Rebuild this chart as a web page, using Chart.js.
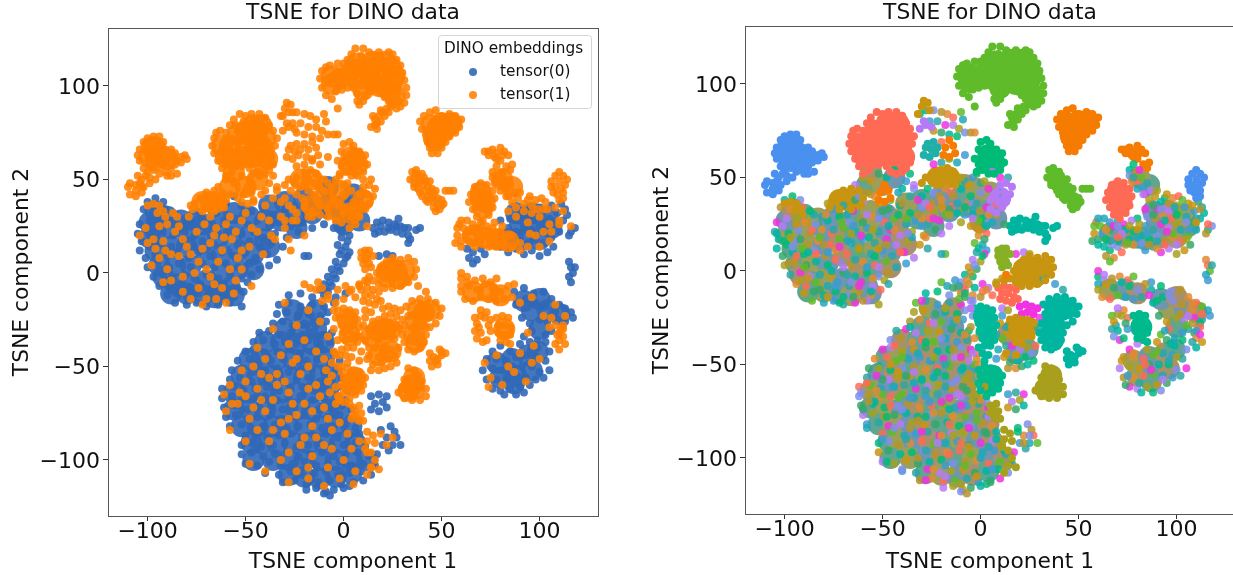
<!DOCTYPE html>
<html>
<head>
<meta charset="utf-8">
<title>TSNE for DINO data</title>
<script src="https://cdn.jsdelivr.net/npm/chart.js@4/dist/chart.umd.min.js"></script>
<style>
    html, body { margin: 0; padding: 0; background: #fff; overflow: hidden; width: 1233px; height: 575px; }
    canvas { position: absolute; top: 0; }
    #leftChart { left: 0; }
    #rightChart { left: 640px; }
</style>
</head>
<body>
<canvas id="leftChart" width="620" height="575"></canvas>
<canvas id="rightChart" width="620" height="575"></canvas>
<script>
// Tick labels and legend
const xTicks = [-100, -50, 0, 50, 100];
const yTicks = [-100, -50, 0, 50, 100];
const legendTitle = 'DINO embeddings';
const legendNames = ['tensor(0)', 'tensor(1)'];

// Points, [x, y]
// Dense parts: *Core are the wide blobs under the dots
const blueCore = [[-96,22],[-88,24],[-80,22],[-72,26],[-64,30],[-56,32],[-48,30],[-40,28],[-32,28],[-24,30],[-16,32],[-8,36],[-96,12],[-88,14],[-80,14],[-72,16],[-64,20],[-56,22],[-48,20],[-40,18],[-94,4],[-86,4],[-78,4],[-70,8],[-62,10],[-54,12],[-46,10],[-38,14],[-86,-6],[-78,-6],[-70,-4],[-62,0],[-54,2],[-80,-11],[-72,-12],[-64,-10],[-58,-8],
    [-99,19],[-99,27],[-96,33],[-90,30],[-83,28],[-76,28],[-92,-2],[-88,-11],[-66,-13],[-56,-12],[-46,2],[-30,38],[-38,36],[-20,40],[-8,46],[0,36],[5,42],[8,28],[0,26],[-24,24],
    [-26,-20],[-20,-24],[-14,-20],[-30,-30],[-22,-32],[-14,-30],[-40,-37],[-32,-37],[-24,-38],[-16,-38],[-10,-37],[-48,-46],[-42,-46],[-34,-46],[-26,-46],[-18,-46],[-10,-46],[-52,-55],[-44,-55],[-36,-55],[-28,-55],[-20,-55],[-12,-55],[-6,-54],
    [-56,-64],[-48,-64],[-40,-64],[-32,-64],[-24,-64],[-16,-64],[-8,-64],[-56,-73],[-48,-73],[-40,-73],[-32,-73],[-24,-73],[-16,-73],[-8,-73],[-2,-73],[-52,-82],[-44,-82],[-36,-82],[-28,-82],[-20,-82],[-12,-82],[-4,-82],[4,-82],
    [-47,-91],[-42,-91],[-34,-91],[-26,-91],[-18,-91],[-10,-91],[-2,-91],[6,-91],[-46,-100],[-36,-100],[-28,-100],[-20,-100],[-12,-100],[-4,-100],[4,-100],[12,-100],[-28,-108],[-20,-109],[-12,-110],[-4,-109],[4,-107],
    [78,-48],[86,-46],[94,-44],[99,-42],[80,-56],[88,-55],[96,-52],[87,-59],[96,-20],[104,-20],[110,-22],[92,18],[100,18],[90,26],[98,26],[106,24],[104,30],[92,-15],[100,-14],[100,-30],[84,18],[88,32],[96,32]];
const upperLeftDots = [[-100,38],[-96,40],[-92,38],[-102,34],[-97,33],[-91,34],[-86,31],[-81,29],[-75,33],[-70,35],[-65,32],[-60,37],[-56,41],[-52,36],[-47,33],[-41,35],[-36,31],[-30,34],[-25,36],[-19,33],[-14,35],[-9,31],[-4,33],[1,30],
    [-105,21],[-104,26],[-99,28],[-94,28],[-89,26],[-83,25],[-78,27],[-72,29],[-67,26],[-61,28],[-55,29],[-49,26],[-44,28],[-38,25],[-33,27],[-27,25],[-21,27],[-16,24],[-10,26],[-5,24],[1,25],
    [-103,17],[-98,20],[-93,22],[-87,20],[-81,22],[-76,20],[-70,23],[-64,21],[-58,23],[-52,21],[-46,22],[-41,19],[-35,21],[-29,19],[-23,22],
    [-104,12],[-99,14],[-94,16],[-88,14],[-83,16],[-77,14],[-72,17],[-66,15],[-60,17],[-54,15],[-48,17],[-43,14],[-37,16],[-31,14],
    [-101,8],[-96,10],[-90,9],[-85,11],[-79,8],[-74,11],[-68,9],[-62,11],[-56,9],[-50,11],[-45,8],[-39,10],[-34,7],
    [-100,3],[-95,5],[-89,3],[-84,5],[-78,3],[-72,5],[-66,3],[-60,5],[-54,3],[-48,5],[-43,2],[-38,4],
    [-97,-2],[-92,-1],[-87,-3],[-81,-1],[-76,-3],[-70,-1],[-64,-3],[-58,-1],[-52,-3],[-47,-1],
    [-94,-7],[-89,-8],[-84,-6],[-78,-8],[-73,-6],[-67,-8],[-61,-6],[-55,-8],[-49,-5],
    [-90,-12],[-85,-11],[-80,-13],[-74,-11],[-68,-13],[-62,-11],[-56,-13],[-51,-10],
    [-86,-16],[-80,-17],[-75,-16],[-70,-18],[-64,-17],[-58,-16],[-52,-18]];
const lowerDots = [[-28,-12],[-22,-11],[-16,-13],[-10,-12],[-4,-13],[1,-11],
    [-33,-17],[-28,-16],[-22,-18],[-16,-17],[-10,-18],[-5,-16],[-34,-22],[-29,-21],[-23,-23],[-18,-22],[-12,-23],[-8,-21],
    [-36,-27],[-31,-26],[-26,-28],[-20,-27],[-14,-28],[-9,-26],[-43,-32],[-38,-31],[-33,-33],[-27,-32],[-21,-33],[-15,-31],[-10,-33],[-6,-32],
    [-46,-37],[-41,-36],[-35,-38],[-30,-37],[-24,-38],[-18,-36],[-12,-38],[-7,-37],[-50,-42],[-46,-41],[-40,-43],[-34,-42],[-28,-41],[-22,-43],[-16,-42],[-10,-41],[-5,-43],
    [-54,-47],[-48,-46],[-43,-48],[-37,-47],[-31,-46],[-25,-48],[-19,-47],[-13,-46],[-7,-48],[-2,-47],[-57,-52],[-52,-51],[-46,-53],[-40,-52],[-34,-51],[-28,-53],[-22,-52],[-16,-51],[-10,-53],[-4,-52],
    [-58,-57],[-53,-56],[-47,-58],[-42,-57],[-36,-56],[-30,-58],[-24,-57],[-18,-56],[-12,-58],[-6,-57],[-1,-56],[-62,-62],[-56,-61],[-51,-63],[-45,-62],[-39,-61],[-33,-63],[-27,-62],[-21,-61],[-15,-63],[-9,-62],[-3,-61],[2,-63],
    [-62,-67],[-57,-66],[-52,-68],[-46,-67],[-40,-66],[-34,-68],[-28,-67],[-22,-66],[-16,-68],[-10,-67],[-4,-66],[1,-68],[-61,-72],[-55,-71],[-49,-73],[-43,-72],[-37,-71],[-31,-73],[-25,-72],[-19,-71],[-13,-73],[-7,-72],[-1,-71],[4,-73],
    [-60,-77],[-55,-76],[-49,-78],[-44,-77],[-38,-76],[-32,-78],[-26,-77],[-20,-76],[-14,-78],[-8,-77],[-2,-76],[3,-78],[-58,-82],[-52,-81],[-47,-83],[-41,-82],[-35,-81],[-29,-83],[-23,-82],[-17,-81],[-11,-83],[-5,-82],[1,-81],[6,-83],
    [-50,-87],[-45,-86],[-39,-88],[-33,-87],[-27,-86],[-21,-88],[-15,-87],[-9,-86],[-3,-88],[3,-87],[8,-86],[-52,-92],[-47,-91],[-42,-93],[-36,-92],[-30,-91],[-24,-93],[-18,-92],[-12,-91],[-6,-93],[0,-92],[6,-91],[11,-93],
    [-52,-97],[-47,-96],[-41,-98],[-35,-97],[-29,-96],[-23,-98],[-17,-97],[-11,-96],[-5,-98],[1,-97],[7,-96],[13,-98],[17,-97],[-50,-102],[-44,-103],[-38,-101],[-32,-103],[-26,-102],[-20,-101],[-14,-103],[-8,-102],[-2,-101],[4,-103],[10,-102],[16,-103],
    [-40,-107],[-33,-108],[-27,-106],[-21,-108],[-15,-107],[-9,-106],[-3,-108],[3,-107],[9,-106],[14,-108],[-31,-112],[-25,-111],[-19,-113],[-13,-112],[-7,-111],[-1,-113],[5,-112],[10,-111],[-19,-116],[-14,-115],[-9,-117],[-5,-116],[0,-115],[3,-114],[-10,-118],[-7,-119]];
const rightUpperDots = [[63,13],[66,11],[70,13],[64,8],[68,7],[72,10],[66,5],[80,14],[84,11],[88,13],[92,10],[96,12],[100,9],[104,11],[107,14],[82,19],[86,17],[90,19],[94,16],[98,18],[102,16],[106,19],[110,22],[84,24],[88,22],[92,25],[96,23],[100,25],[104,23],[108,26],[112,28],[80,28],[85,29],[89,28],[93,30],[97,28],[101,31],[105,29],[109,32],[113,34],[90,33],[95,34],[100,35],[106,36],[111,37],[114,31],[116,22],[118,24],[115,20],[115,6],[116,3],[117,0],[115,-2],[116,-5],[118,3]];
const rightLowerDots = [[87,-10],[92,-8],[97,-11],[102,-10],[106,-14],[110,-17],[113,-19],[116,-21],[117,-24],[113,-26],[109,-25],[104,-26],[100,-25],[95,-27],[91,-24],[88,-17],[93,-14],[98,-16],[103,-18],[108,-21],[96,-31],[92,-34],[99,-36],[103,-33],[106,-31],
    [76,-42],[80,-39],[85,-42],[90,-38],[95,-37],[99,-40],[103,-37],[105,-42],[73,-46],[78,-46],[83,-47],[88,-45],[93,-44],[98,-45],[103,-47],[105,-52],[71,-52],[76,-51],[81,-52],[86,-50],[91,-50],[96,-50],[100,-53],[73,-57],[78,-57],[83,-56],[88,-55],[93,-56],[98,-57],[102,-56],[76,-62],[80,-63],[85,-62],[90,-61],[95,-60],[82,-65],[88,-65],[92,-64]];
const columnDots = [[-4,30],[1,28],[4,26],[-2,24],[-1,19],[3,20],[-3,15],[1,14],[3,11],[-2,10],[2,9],[-4,6],[0,5],[-6,2],[-2,1],[-8,-2],[-4,-3],[-10,-6],[-6,-7],[-12,-9],[-8,-10],[-18,9],[-20,9],[14,-66],[18,-65],[22,-66],[16,-70],[20,-69],[14,-73],[18,-74],[22,-72],[19,-84],[24,-82],[26,-85],[22,-88],[27,-88],[29,-92],[25,-92],[20,-92],[23,-95],[18,9],[22,10],[25,9],[-1,22],[2,17],[-1,12],[1,8],[-3,3],[-5,-1],[-7,-5],[-9,-9]];
// Orange-on-blue dots scattered through the dense parts
const scatterDots = [[-104,20],[-100,16],[-96,13],[-98,4],[-90,26],[-86,22],[-82,18],[-85,30],[-78,10],[-75,22],[-72,13],[-70,2],[-66,20],[-62,12],[-60,26],[-57,18],[-54,8],[-52,28],[-48,14],[-44,22],[-41,10],[-38,28],[-35,18],[-30,24],[-27,12],[-24,28],[-20,20],[-16,30],[-88,-4],[-82,-10],[-76,0],[-70,-14],[-66,-6],[-60,-16],[-55,-4],[-84,9],[-91,12],[-68,30],[-58,2],[-47,-7],
    [-30,-16],[-24,-28],[-18,-20],[-12,-26],[-8,-14],[-36,-30],[-28,-38],[-20,-36],[-14,-42],[-8,-34],[-44,-40],[-40,-46],[-32,-44],[-26,-48],[-18,-50],[-10,-46],[-4,-44],[-52,-52],[-46,-50],[-38,-56],[-30,-58],[-22,-54],[-14,-60],[-6,-55],[-1,-50],[-58,-60],[-50,-66],[-44,-62],[-36,-68],[-28,-64],[-20,-70],[-12,-66],[-4,-70],[2,-62],
    [-60,-74],[-54,-70],[-48,-78],[-40,-74],[-32,-80],[-24,-76],[-16,-82],[-8,-78],[-58,-84],[-50,-90],[-38,-90],[-30,-86],[-22,-92],[-14,-88],[-6,-94],[2,-86],[8,-90],[-48,-102],[-40,-106],[-32,-100],[-24,-106],[-16,-98],[-8,-104],[0,-100],[6,-106],[14,-104],[-28,-112],[-18,-110],[-10,-114],[-2,-110],[5,-113],[12,-96],[19,-86],[25,-88],[22,-92],
    [64,22],[70,18],[75,15],[80,18],[85,20],[90,16],[95,21],[100,14],[105,17],[110,26],[88,30],[94,27],[100,30],[105,26],[112,33],[78,-44],[84,-50],[90,-43],[96,-48],[75,-56],[81,-60],[87,-53],[93,-58],[100,-46],[72,-48],[74,-61],[97,-39],[90,-16],[96,-13],[102,-23],[108,-17],[113,-23],[105,-29],[94,-32],[110,-32],[108,-38],[112,-34],
    [-101,24],[-97,18],[-94,25],[-92,17],[-88,10],[-87,32],[-84,25],[-80,14],[-79,30],[-74,6],[-71,26],[-68,16],[-65,24],[-64,6],[-61,19],[-58,30],[-55,22],[-52,12],[-50,32],[-47,24],[-42,30],[-37,20],[-32,30],[-28,18],[-94,8],[-90,2],[-82,-2],[-74,-8],[-68,-2],[-62,-8],[-52,2],[-92,-5],[-78,-14],[-65,-14],[-56,-11],[-72,-17],
    [-61,-65],[-57,-70],[-53,-64],[-46,-72],[-42,-68],[-34,-60],[-26,-70],[-18,-62],[-10,-72],[-34,-54],[-24,-46],[-42,-54],[-50,-58],[-16,-74],[-28,-78],[-44,-84],[-36,-84],[-20,-88],[-10,-92],[-2,-80],[4,-94],[-18,-104],[-28,-96],[-6,-84],[4,-78],[-2,-66]];
// Orange parts that stay mixed in the class colours
const orangeMidCore = [[-58,46],[-50,46],[-44,50],[-56,54],[-10,40],[-2,44],[-16,36],[-4,34],[4,32],[66,20],[72,19],[78,18],[84,17],[66,-10],[74,-10],[80,-12],[86,46],[81,50],[18,-44],[14,-34],[24,-42]];
const orangeMidDots = [[-30,40],[-27,44],[-24,42],[-21,40],[-18,44],[-15,42],[-12,46],[-8,48],[-4,50],[0,47],[4,44],[-28,36],[-24,32],[-20,35],[-16,33],[-12,31],[-8,34],[-4,37],[0,32],[4,30],[8,36],[-1,27],[6,26],[10,42],[14,50],[10,50],[6,53],[-78,36],[-70,40],[-64,38],[-40,44],[-36,52],[-34,44],[-40,36],[-30,28],[-26,28],
    [-20,-6],[-17,-8],[-13,-5],[-11,-8],[1,-7],[4,-9],[8,-6],[11,-4],[-14,-9],[-3,-9],[60,-3],[63,-5],[67,-4],[71,-3],[75,-5],[78,-3],[60,-7],[87,-6],
    [13,-40],[16,-40],[20,-42],[24,-41],[12,-46],[15,-49],[19,-48],[23,-46],[26,-44],[14,-52],[18,-52],[28,-40],[11,-36],[13,-30],[11,-24],[29,-30],[30,-25],[11,-20],[14,-21],[10,-28],[21,-51],[24,-50],[27,-48],
    [-4,-24],[-5,-30],[-3,-36],[-2,-44],[-3,-50],[9,-42],[8,-47],[8,-34],[-5,-42],[-6,-48],[-8,-58],[-4,-61],[-7,-64],[-9,-52],[-2,-68],[3,-70],[-3,-66],[0,-69],
    [59,26],[61,24],[63,28],[66,26],[70,27],[73,25],[77,27],[81,25],[58,20],[60,17],[74,22],[78,21],[82,15],[86,14],[90,12],[94,14],[98,20],[102,22],[106,22],[110,28],[84,33],[96,32],[102,34],[108,35],[66,22],[76,17],[70,16],[67,14],
    [70,-23],[73,-21],[75,-25],[67,-24],[69,-29],[75,-31],[67,-31],[71,-37],[106,-24],[111,-30],[113,-38],[109,-33],[110,-41],[112,-28]];
const orangePatchDots = [[-31,84],[-28,86],[-24,86],[-20,85],[-17,84],[-14,82],[-10,85],[-9,81],[-26,80],[-22,80],[-18,78],[-14,78],[-11,76],[-24,75],[-20,74],[-16,73],[-12,72],[-8,74],[-5,74],[-3,74],[-20,69],[-16,60],[-12,58],[-8,62],[-20,58],[-24,57],
    [-64,46],[-60,50],[-56,48],[-52,52],[-48,50],[-44,54],[-62,40],[-58,42],[-54,40],[-50,44],[-46,38],[-42,42],[-38,48],[-36,40],[-32,38],[-34,46],
    [-10,50],[-6,46],[-2,52],[-10,44],[-5,40],[0,42],[-14,40],[-20,38],[-26,34],[-18,30],[-12,36],[-8,30],[-2,36],[3,34],[-4,28],[2,48],[8,30],[12,25],[3,24],
    [-8,-12],[-4,-16],[0,-14],[3,-10],[6,-13],[-11,-15],[32,-4],[38,-7],[42,-10],[60,0],[63,-2],
    [60,-10],[64,-7],[68,-9],[72,-6],[76,-8],[80,-10],[84,-7],[62,-14],[66,-15],[70,-13],[74,-14],[78,-15],[82,-14],[86,-13],[70,-20],[72,-24],[68,-27],[74,-28],[70,-32],[73,-36],[68,-35],[108,-28],[110,-36],[112,-30],
    [58,24],[60,28],[62,20],[66,16],[68,24],[72,20],[76,24],[80,22],[57,16],[60,14],[64,17],[70,24],[74,14],[78,14],[116,25]];
// Single colour groups
const topBlobCore = [[-6,105],[2,106],[7,112],[10,104],[15,113],[18,106],[24,110],[25,102],[26,95],[20,100],[12,110],[10,98],[-2,104],[5,109],[21,113],[26,105],[14,104],[-6,101],[24,97],[18,100]];
const topBlobDots = [[-11,108],[-12,104],[-11,99],[-9,95],[-6,93],[-4,97],[-1,98],[2,99],[5,99],[7,96],[7,92],[8,90],[10,92],[11,95],[13,97],[16,98],[19,96],[21,94],[23,92],[25,90],[27,88],[29,89],[31,91],[32,95],[32,99],[31,103],[30,107],[29,111],[27,114],[25,117],[23,118],[19,116],[16,116],[13,118],[10,120],[6,120],[4,117],[2,114],[0,112],[-3,112],[-7,111],[-9,110],[-1,101],[4,101],[24,89],[22,88],[20,86],[21,84],[18,84],[19,81],[16,82],[16,79],[14,78],[17,77],[15,84],[-3,88],[23,86],[19,87],[17,80],[9,116],[18,118],[28,92]];
const salmonCore = [[-50,76],[-44,76],[-42,68],[-50,68],[-58,68],[-57,61],[-50,62],[-42,60],[-54,74],[-46,72],[-40,72],[-62,68],[-46,62],[-46,79],[-42,79],[-60,62],[-39,61]];
const salmonDots = [[-66,72],[-67,68],[-66,64],[-64,60],[-62,56],[-60,52],[-57,54],[-55,57],[-52,57],[-50,59],[-48,56],[-46,53],[-43,52],[-40,53],[-38,55],[-36,58],[-37,62],[-37,66],[-35,68],[-34,72],[-36,76],[-38,79],[-40,83],[-43,85],[-47,85],[-50,84],[-53,85],[-56,82],[-58,79],[-60,75],[-63,76],[-65,75],[-54,76],[-46,82],[-62,66],[-60,60],[-51,81],[-55,79]];
const blueLobeCore = [[-98,67],[-96,60],[-96,67],[-99,62],[-93,62],[-90,61]];
const blueLobeDots = [[-104,66],[-102,70],[-100,72],[-97,73],[-94,73],[-92,70],[-91,66],[-88,66],[-86,64],[-83,62],[-81,63],[-80,61],[-83,59],[-86,58],[-88,56],[-91,54],[-88,52],[-85,53],[-90,52],[-94,53],[-96,50],[-99,51],[-102,56],[-104,60],[-105,63],[-100,54],[-103,50],[-106,47],[-110,46],[-109,42],[-106,41],[-103,43],[-102,46],[-99,48],[-105,52],[-109,48],[-88,62],[-85,60],[-92,58],[-97,55],[-103,46],[-106,44],[-101,52],[-104,48]];
const triangleCore = [[48,78],[54,79],[46,72],[50,80],[45,79],[55,80],[47,71],[51,76]];
const triangleDots = [[39,81],[41,84],[44,86],[47,87],[50,84],[54,85],[57,84],[60,82],[59,78],[57,75],[54,73],[52,70],[50,67],[48,64],[45,64],[44,67],[43,70],[42,74],[40,77],[47,68],[50,74]];
const diagonalDots = [[35,54],[37,55],[38,52],[34,50],[36,48],[39,49],[41,47],[38,45],[41,44],[43,46],[40,41],[43,41],[46,42],[43,38],[46,38],[48,37],[46,35],[49,34],[48,40],[50,36],[36,51],[41,51],[52,44],[54,44],[56,44],[44,43],[38,48],[45,45],[37,53],[40,53],[42,49],[44,49],[39,43],[42,39],[45,40],[47,44],[50,39],[36,46],[47,33],[51,37]];
const orangeTopDots = [[72,65],[74,63],[76,66],[78,64],[80,67],[82,65],[84,63],[78,61],[80,60],[83,57],[85,55],[86,58],[74,65],[77,62],[81,63]];
const sideSalmonCore = [[70,40],[71,35],[70,43],[72,38]];
const sideSalmonDots = [[65,42],[64,38],[66,34],[68,30],[71,28],[74,31],[76,35],[77,40],[76,44],[73,47],[70,48],[67,46]];
const descentDots = [[76,54],[78,57],[76,51],[79,52],[77,48],[80,48],[82,50],[80,44],[83,45],[85,47],[84,41],[87,43],[86,38],[89,40],[88,35],[92,37],[94,39],[92,33],[96,36],[98,39],[101,40],[103,38],[99,34],[104,34],[78,50],[81,54],[83,41],[90,43],[95,41]];
const sideBlueDots = [[106,49],[108,52],[110,54],[112,52],[114,50],[110,49],[108,46],[111,45],[109,42],[112,40],[107,43],[113,47],[112,43],[110,39],[106,46]];
const tealColumnCore = [[2,-25],[3,-33]];
const tealColumnDots = [[-3,-20],[0,-19],[3,-20],[6,-21],[-2,-24],[1,-23],[4,-24],[7,-25],[-1,-28],[2,-27],[5,-28],[8,-29],[0,-32],[3,-31],[6,-33],[1,-36],[4,-35],[7,-37],[2,-40],[5,-40],[1,-44],[4,-45],[2,-48],[-1,-41]];
const tealLowCore = [[5,-58],[4,-60],[6,-56]];
const tealLowDots = [[-1,-53],[2,-51],[5,-52],[8,-53],[11,-56],[10,-60],[9,-63],[6,-65],[3,-67],[0,-64],[-1,-60],[0,-56]];
const tealRightCore = [[41,-21],[36,-33],[38,-20],[44,-20],[37,-26],[37,-37]];
const tealRightDots = [[32,-18],[35,-15],[39,-14],[43,-14],[47,-16],[50,-19],[49,-23],[47,-27],[44,-29],[41,-28],[37,-27],[33,-23],[31,-28],[30,-33],[31,-37],[33,-41],[36,-42],[39,-40],[41,-37],[42,-33],[42,-29],[44,-43],[46,-45],[48,-46],[50,-44],[52,-43],[45,-50],[48,-49],[44,-47],[47,-47],[50,-42],[49,-41]];
const oliveCore = [[35,-60],[36,-62],[33,-63],[36,-56]];
const oliveDots = [[33,-51],[36,-52],[38,-55],[40,-58],[42,-62],[42,-66],[39,-68],[35,-68],[31,-67],[28,-64],[30,-61],[31,-57],[5,-72],[8,-71],[9,-75],[7,-78],[10,-79],[5,-76],[12,-85],[15,-87],[12,-90],[16,-91],[11,-94],[14,-96],[16,-100],[18,-105],[14,-104],[12,-108],[6,-74],[8,-79]];
const magentaDots = [[20,-19],[23,-18],[26,-19],[29,-20],[21,-23],[24,-22],[27,-23]];
const goldLowCore = [[21,-30],[17,-31],[24,-30]];
const goldLowDots = [[15,-26],[18,-25],[21,-26],[24,-27],[27,-28],[16,-30],[19,-30],[22,-31],[25,-31],[17,-34],[20,-35],[23,-35],[18,-38],[21,-39],[26,-35],[13,-44],[18,-45]];
const salmonLowDots = [[9,-9],[12,-8],[15,-9],[18,-10],[11,-12],[14,-12],[17,-14],[13,-16],[16,-17],[10,-15],[19,-15]];
const goldMiddleCore = [[27,1],[22,-2],[22,1],[28,-3],[31,1],[25,2]];
const goldMiddleDots = [[18,-6],[21,-8],[25,-8],[29,-7],[33,-5],[36,-2],[37,2],[36,6],[33,8],[29,7],[25,8],[22,6],[19,3],[17,0],[15,-4],[31,-1],[12,-5],[8,-7]];
const oliveGreenDots = [[9,11],[11,12],[13,12],[9,8],[12,8],[15,9],[10,5],[13,5],[11,2],[14,3],[12,10],[11,7]];
const tealMiddleDots = [[15,24],[17,27],[20,28],[23,27],[26,26],[29,25],[31,24],[18,22],[21,22],[24,23],[27,22],[16,21],[30,21],[33,24],[37,23],[39,24],[33,20],[33,16],[34,18],[28,29],[19,25],[23,24],[27,25]];
const tealRightSideCore = [[82,-30]];
const tealRightSideDots = [[78,-24],[81,-23],[84,-24],[79,-28],[82,-28],[85,-29],[79,-32],[82,-33],[85,-33],[80,-36],[83,-37],[85,-38]];
const goldLeftCore = [[-68,38],[-72,38],[-65,38]];
const goldLeftDots = [[-77,34],[-76,37],[-73,40],[-70,43],[-66,44],[-62,43],[-60,39],[-61,35],[-66,33],[-72,33],[-100,36],[-97,37],[-94,36],[-92,33],[-95,32],[-91,30]];
const goldStripCore = [[-22,50],[-16,50]];
const goldStripDots = [[-30,47],[-28,50],[-25,48],[-22,46],[-24,51],[-20,54],[-17,55],[-14,53],[-12,50],[-15,48],[-18,50],[-20,47],[-13,46],[-32,84],[-30,88],[-27,90],[-26,86],[-29,91]];
const greenBlobCore = [[4,62],[7,58],[3,58],[6,61]];
const greenBlobDots = [[0,69],[3,70],[5,68],[8,65],[11,63],[12,58],[10,54],[7,52],[4,52],[1,54],[-1,57],[-3,60],[-1,65],[-2,53]];
const purpleCore = [[10,39]];
const purpleDots = [[5,33],[8,31],[11,34],[13,37],[15,41],[16,45],[13,47],[10,46],[8,42],[5,38],[9,37],[12,42],[-31,76],[-28,78],[-25,77],[-29,80],[-5,-20]];
const orangePatchSolid = [[-19,62],[-16,61],[-13,63],[-18,66],[-14,67],[-16,70],[-52,38],[-49,37],[-46,39],[-51,42],[-47,43],[-49,46],[13,-2]];
const tealPatchDots = [[-29,62],[-26,61],[-23,63],[-28,66],[-25,65],[-24,69],[-27,68],[-22,66]];

const BLUE = 'rgba(49,104,184,0.9)';
const ORANGE = 'rgba(255,128,0,0.88)';
// class colours for the right plot
const palette = ['#00b5a0', '#e08a30', '#3c9cd0', '#a8a01c', '#00ba78', '#ff6a55', '#2ca7a5', '#c89510', '#7f8fe8', '#5fbb2a', '#f032e0', '#34a86a', '#b5942a', '#1fa8b8', '#b57bf5'];
const mutedPalette = ['#5fa58f', '#9aa05a', '#6f96b0', '#a8916a'];

// core, dots, colour in the left plot, colour in the right plot
const groupTable = [
    [blueCore, [], BLUE, 'mix'],
    [[], upperLeftDots, BLUE, 'mix'],
    [[], lowerDots, BLUE, 'mix'],
    [[], rightUpperDots, BLUE, 'mix'],
    [[], rightLowerDots, BLUE, 'mix'],
    [[], columnDots, BLUE, 'mix'],
    [[], tealMiddleDots, BLUE, '#00b5a0'],
    [orangeMidCore, orangeMidDots, ORANGE, 'mix'],
    [[], orangePatchDots, ORANGE, 'mix'],
    [[], scatterDots, ORANGE, 'mix'],
    [topBlobCore, topBlobDots, ORANGE, '#5fbb2a'],
    [salmonCore, salmonDots, ORANGE, '#ff6a55'],
    [blueLobeCore, blueLobeDots, ORANGE, '#4a90ef'],
    [triangleCore, triangleDots, ORANGE, '#f57c00'],
    [[], diagonalDots, ORANGE, '#5fbb2a'],
    [[], orangeTopDots, ORANGE, '#f57c00'],
    [[], descentDots, ORANGE, 'mix'],
    [sideSalmonCore, sideSalmonDots, ORANGE, '#ff6a55'],
    [[], sideBlueDots, ORANGE, '#4a90ef'],
    [tealColumnCore, tealColumnDots, ORANGE, '#00b89a'],
    [tealLowCore, tealLowDots, ORANGE, '#00b98c'],
    [tealRightCore, tealRightDots, ORANGE, '#00b5a0'],
    [oliveCore, oliveDots, ORANGE, '#a8a01c'],
    [[], magentaDots, ORANGE, '#f032e0'],
    [goldLowCore, goldLowDots, ORANGE, '#c89510'],
    [[], salmonLowDots, ORANGE, '#ff6a55'],
    [goldMiddleCore, goldMiddleDots, ORANGE, '#c89510'],
    [[], oliveGreenDots, ORANGE, '#88b025'],
    [tealRightSideCore, tealRightSideDots, ORANGE, '#00b98c'],
    [goldLeftCore, goldLeftDots, ORANGE, '#c89510'],
    [goldStripCore, goldStripDots, ORANGE, '#c89510'],
    [greenBlobCore, greenBlobDots, ORANGE, '#00ba78'],
    [purpleCore, purpleDots, ORANGE, '#b57bf5'],
    [[], orangePatchSolid, ORANGE, '#f57c00'],
    [[], tealPatchDots, ORANGE, '#20b0a8']
];

function makeLayer(points, radius, color) {
    return {
        data: points.map(p => ({ x: p[0], y: p[1] })),
        pointRadius: radius,
        pointBorderWidth: 0,
        pointBackgroundColor: color
    };
}

function buildDatasets(side) {
    const cores = [];
    const dots = [];
    groupTable.forEach(row => {
        const color = side === 'left' ? row[2] : row[3];
        if (row[0].length) {
            const fill = color === 'mix' ? row[0].map((p, i) => mutedPalette[i % mutedPalette.length]) : color;
            (side === 'left' ? dots : cores).push(makeLayer(row[0], 11, fill));
        }
        if (row[1].length) {
            const fill = color === 'mix' ? row[1].map((p, i) => palette[(i * 4) % palette.length] + 'd8') : color;
            dots.push(makeLayer(row[1], 4, fill));
        }
    });
    // Chart.js paints the first dataset last
    return cores.concat(dots).reverse();
}

// Frame around the plot, plus the legend box on the left plot
const framePlugin = {
    id: 'frame',
    afterDraw(chart) {
        const a = chart.chartArea;
        const ctx = chart.ctx;
        ctx.save();
        ctx.strokeStyle = '#555';
        ctx.lineWidth = 1;
        ctx.strokeRect(a.left + 0.5, a.top + 0.5, a.right - a.left, a.bottom - a.top);
        ctx.restore();
    }
};

const legendPlugin = {
    id: 'legendBox',
    afterDraw(chart) {
        const ctx = chart.ctx;
        ctx.save();
        ctx.beginPath();
        ctx.roundRect(438.5, 35.5, 153, 73, 3);
        ctx.fillStyle = 'rgba(255,255,255,0.8)';
        ctx.fill();
        ctx.strokeStyle = '#d5d5d5';
        ctx.stroke();
        ctx.fillStyle = '#111';
        ctx.textBaseline = 'middle';
        ctx.font = '15.3px "DejaVu Sans"';
        ctx.fillText(legendTitle, 444, 49);
        [BLUE, ORANGE].forEach((color, i) => {
            const y = 72 + i * 23;
            ctx.fillStyle = color;
            ctx.beginPath();
            ctx.arc(473, y, 4, 0, Math.PI * 2);
            ctx.fill();
            ctx.fillStyle = '#111';
            ctx.fillText(legendNames[i], 500, y);
        });
        ctx.restore();
    }
};

function axisOptions(values, label, range, fit, tickPadding, labelOffset) {
    return {
        type: 'linear',
        min: range[0],
        max: range[1],
        afterBuildTicks: scale => { scale.ticks = values.map(v => ({ value: v })); },
        afterFit: fit,
        border: { display: true, color: '#555', width: 1 },
        grid: { drawOnChartArea: false, drawTicks: true, tickLength: 5, color: '#333' },
        ticks: {
            autoSkip: false,
            maxRotation: 0,
            padding: tickPadding,
            labelOffset: labelOffset,
            color: '#111',
            font: { family: 'DejaVu Sans', size: 22 },
            callback: v => String(v).replace('-', '\u2212')
        },
        title: {
            display: true,
            text: label,
            color: '#111',
            padding: { top: 0, bottom: 0 },
            font: { family: 'DejaVu Sans', size: 21.8 }
        }
    };
}

function drawPlot(canvasId, side, box) {
    return new Chart(document.getElementById(canvasId), {
        type: 'scatter',
        data: { datasets: buildDatasets(side) },
        plugins: side === 'left' ? [framePlugin, legendPlugin] : [framePlugin],
        options: {
            responsive: false,
            animation: false,
            events: [],
            layout: { padding: { left: 9, right: box.right, top: 0, bottom: 0 } },
            scales: {
                x: axisOptions(xTicks, 'TSNE component 1', [-120.2, 129.8], s => { s.height = box.bottom; }, -2, 0),
                y: axisOptions(yTicks, 'TSNE component 2', box.yRange, s => { s.width = box.left - 9; }, 3, 2)
            },
            plugins: {
                legend: { display: false },
                tooltip: { enabled: false },
                title: {
                    display: true,
                    text: 'TSNE for DINO data',
                    fullSize: false,
                    color: '#111',
                    padding: { top: 0, bottom: box.top - 26.16 },
                    font: { family: 'DejaVu Sans', size: 21.8, weight: 'normal', lineHeight: 1.2 }
                }
            }
        }
    });
}

document.addEventListener('DOMContentLoaded', function () {
    drawPlot('leftChart', 'left', { left: 108, right: 22, top: 28, bottom: 59, yRange: [-130, 131] });
    drawPlot('rightChart', 'right', { left: 105, right: 25, top: 26, bottom: 61, yRange: [-130, 131] });
});
</script>
</body>
</html>
